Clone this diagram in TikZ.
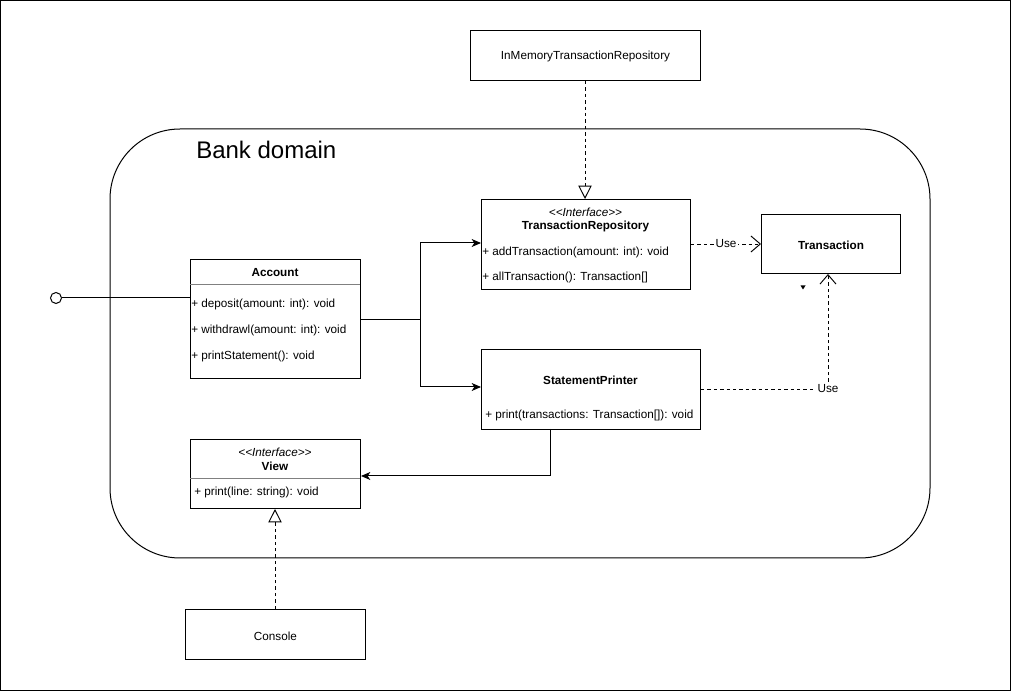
\documentclass[tikz,border=0pt]{standalone}
\usepackage{fontspec}
\setmainfont{Liberation Sans}[Ligatures=NoCommon]
\usetikzlibrary{arrows.meta}
\begin{document}
\begin{tikzpicture}[x=0.75pt,y=-0.75pt,
  box/.style={draw,line width=0.75pt,fill=white},
  txt/.style={font=\fontsize{8.8}{10}\selectfont,inner sep=0pt,yshift=-1.1pt},
  btxt/.style={font=\fontsize{8.8}{10}\selectfont\bfseries,inner sep=0pt,yshift=-1.1pt},
  stxt/.style={font=\fontsize{8.8}{10}\selectfont\itshape,inner sep=0pt,yshift=-1.1pt},
  conn/.style={line width=0.75pt},
  dconn/.style={line width=0.7pt,dash pattern=on 2.6pt off 2.2pt},
  filledtip/.style={-{Stealth[length=7pt,width=6pt,inset=2pt]}},
  realize/.style={-{Triangle[open,length=10pt,width=10pt]}},
  usetip/.style={-{Straight Barb[length=7pt,width=12pt]}}
]
\useasboundingbox (0,0) rectangle (1011,691);
\draw[line width=0.8pt] (0.5,0.5) rectangle (1010.5,690.5);
% Bank domain
\draw[line width=0.75pt,rounded corners=52.5pt] (110,129) rectangle (930,558);
\node[anchor=west,inner sep=0pt,font=\fontsize{18}{20}\selectfont] (bank) at (196,150) {Bank domain};
% InMemory
\node[box,minimum width=230*0.75pt,minimum height=50*0.75pt,anchor=north west] (inmem) at (470,30) {};
\node[txt] (inmemt) at (inmem.center) {InMemoryTransactionRepository};
% TransactionRepository
\node[box,minimum width=209*0.75pt,minimum height=90*0.75pt,anchor=north west] (trepo) at (481,199) {};
\node[stxt] (trs) at (585.5,211) {{<}{<}Interface{>}{>}};
\node[btxt] (trn) at (585.5,225) {TransactionRepository};
\node[txt,anchor=west] (tr1) at (482,251) {+ addTransaction(amount: int): void};
\node[txt,anchor=west] (tr2) at (482,276) {+ allTransaction(): Transaction[]};
% Account
\node[box,minimum width=170*0.75pt,minimum height=119*0.75pt,anchor=north west] (acc) at (190,259) {};
\draw[line width=0.6pt,gray] (190,284) -- (360,284);
\node[btxt] (accn) at (275,271) {Account};
\node[txt,anchor=west] (a1) at (191,303) {+ deposit(amount: int): void};
\node[txt,anchor=west] (a2) at (191,329) {+ withdrawl(amount: int): void};
\node[txt,anchor=west] (a3) at (191,355) {+ printStatement(): void};
% StatementPrinter
\node[box,minimum width=219*0.75pt,minimum height=80*0.75pt,anchor=north west] (sp) at (481,349) {};
\node[btxt] (spn) at (590.5,379) {StatementPrinter};
\node[txt,anchor=west] (sp1) at (485,414) {+ print(transactions: Transaction[]): void};
% Transaction
\node[box,minimum width=139*0.75pt,minimum height=59*0.75pt,anchor=north west] (tr) at (761,214) {};
\node[btxt] (trt) at (tr.center) {Transaction};
% View
\node[box,minimum width=170*0.75pt,minimum height=69*0.75pt,anchor=north west] (view) at (190,439) {};
\draw[line width=0.6pt,gray] (190,478) -- (360,478);
\node[stxt] (vs) at (275,451) {{<}{<}Interface{>}{>}};
\node[btxt] (vn) at (275,465) {View};
\node[txt,anchor=west] (v1) at (194,491) {+ print(line: string): void};
% Console
\node[box,minimum width=180*0.75pt,minimum height=50*0.75pt,anchor=north west] (console) at (185,609) {};
\node[txt] (consolet) at (console.center) {Console};
% small marker
\fill (800.5,285.5) -- (805.5,285.5) -- (803,289.5) -- cycle;
% lollipop
\node[draw,circle,line width=0.75pt,minimum size=11*0.75pt,inner sep=0pt,fill=white] (lol) at (56,298) {};
\draw[conn] (lol.east) -- (acc.west |- lol);
% Account -> TR and SP
\coordinate (fork) at (420,320);
\draw[conn] (acc.east |- fork) -- (fork);
\draw[conn,filledtip] (fork) |- (trepo.west |- 0,243);
\draw[conn,filledtip] (fork) |- (sp.west |- 0,387);
% SP -> View
\draw[conn,filledtip] (550,429) |- (view.east |- 0,476);
% realizations
\draw[dconn,realize] (inmem.south -| 585,0) -- (trepo.north -| 585,0);
\draw[dconn,realize] (console.north -| 275,0) -- (view.south -| 275,0);
% uses
\draw[dconn,usetip] (trepo.east |- 0,244) -- node[fill=white,font=\fontsize{8.8}{10}\selectfont,inner sep=1pt] (use1) {Use} (tr.west |- 0,244);
\draw[dconn,usetip] (sp.east |- 0,389) -| node[pos=0.5,fill=white,font=\fontsize{8.8}{10}\selectfont,inner sep=1pt] (use2) {Use} (tr.south -| 828,0);
\end{tikzpicture}
\end{document}
